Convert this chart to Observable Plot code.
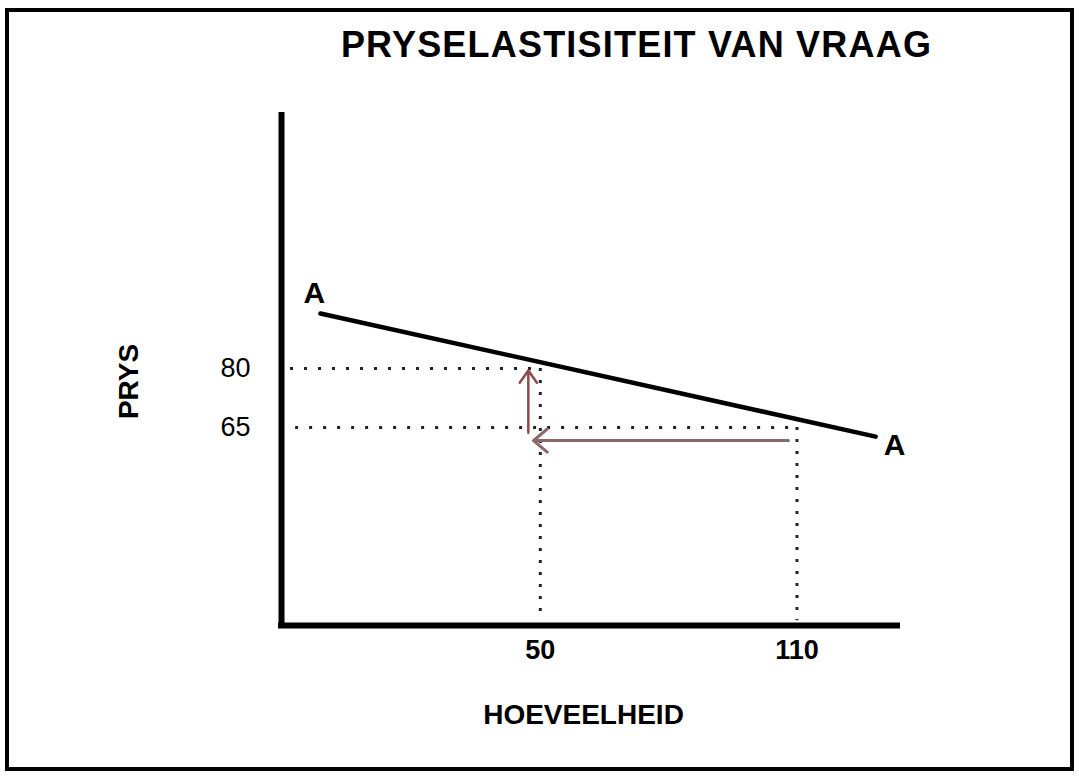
<!DOCTYPE html>
<html><head><meta charset="utf-8">
<script src="https://cdn.jsdelivr.net/npm/d3@7"></script>
<script src="https://cdn.jsdelivr.net/npm/@observablehq/plot@0.6"></script>
<style>
body{margin:0;background:#fff;}
#wrap{position:relative;width:1079px;height:776px;overflow:hidden;background:#fff;}
#border{position:absolute;left:5px;top:8px;width:1061px;height:755px;border:4px solid #000;pointer-events:none;}
</style></head><body><div id="wrap"><div id="border"></div></div>
<script>
// ---- data ----
const title = "PRYSELASTISITEIT VAN VRAAG";
const xLabel = "HOEVEELHEID";
const yLabel = "PRYS";
const curveLabel = "A";
const xTicks = [50, 110];
const yTicks = [80, 65];
const xDomain = [-10.5, 133.5];
const yDomain = [14.7, 144.3];
const demandQ = [-1.4, 128.4];
const demandP = [94.0, 62.7];
// dotted guides
const guideHP = [80, 65];
const guideHQ1 = [-8.4, -7.2];
const guideHQ2 = [50, 110];
const guideVQ = [50, 110];
const guideVP1 = [80, 65];
const guideVP2 = [17.2, 15.9];
// arrows (quantity falls 110 -> 50, price rises 65 -> 80)
const arrowQ1 = [108.0, 47.2];
const arrowQ2 = [48.4, 47.2];
const arrowP1 = [61.7, 63.7];
const arrowP2 = [61.7, 79.5];

const demand = demandQ.map((q, i) => ({q, p: demandP[i]}));
const hGuides = guideHP.map((p, i) => ({p, q1: guideHQ1[i], q2: guideHQ2[i]}));
const vGuides = guideVQ.map((q, i) => ({q, p1: guideVP1[i], p2: guideVP2[i]}));
const arrows = arrowQ1.map((q1, i) => ({q1, q2: arrowQ2[i], p1: arrowP1[i], p2: arrowP2[i]}));

const font = "'Liberation Sans', Arial, sans-serif";
const chart = Plot.plot({
  width: 1079, height: 776,
  marginLeft: 281, marginRight: 182, marginTop: 115, marginBottom: 151,
  style: {fontFamily: font, color: "#000", background: "transparent", overflow: "visible"},
  x: {domain: xDomain},
  y: {domain: yDomain},
  marks: [
    Plot.ruleY(hGuides, {y: "p", x1: "q1", x2: "q2", stroke: "#222", strokeWidth: 3, strokeDasharray: "3 11"}),
    Plot.ruleX(vGuides, {x: "q", y1: "p1", y2: "p2", stroke: "#222", strokeWidth: 3, strokeDasharray: "3 9"}),
    Plot.arrow(arrows.slice(0,1), {x1: "q1", y1: "p1", x2: "q2", y2: "p2", stroke: "#8d6868", strokeWidth: 3, headLength: 9, headAngle: 80}),
    Plot.arrow(arrows.slice(1), {x1: "q1", y1: "p1", x2: "q2", y2: "p2", stroke: "#8e4a4a", strokeWidth: 2.5, headLength: 9, headAngle: 70}),
    Plot.line(demand, {x: "q", y: "p", stroke: "#000", strokeWidth: 4.5}),
    Plot.ruleY([yDomain[0]], {stroke: "#000", strokeWidth: 6, strokeLinecap: "square"}),
    Plot.ruleX([xDomain[0]], {stroke: "#000", strokeWidth: 6, strokeLinecap: "square"}),
    Plot.axisY({ticks: yTicks, tickSize: 0, tickPadding: 31, fontSize: 27, label: null}),
    Plot.axisX({ticks: xTicks, tickSize: 0, tickPadding: 14, fontSize: 27, fontWeight: "bold", label: null}),
    Plot.text(demand.slice(0,1), {x: "q", y: "p", text: () => curveLabel, dx: -6, dy: -20, fontSize: 30, fontWeight: "bold"}),
    Plot.text(demand.slice(1), {x: "q", y: "p", text: () => curveLabel, dx: 19, dy: 9, fontSize: 30, fontWeight: "bold"}),
    Plot.text([yLabel], {frameAnchor: "left", rotate: -90, dx: -152, dy: 11, fontSize: 28, fontWeight: "bold", textAnchor: "middle", lineAnchor: "middle"}),
    Plot.text([xLabel], {frameAnchor: "bottom", dx: -6, dy: 90, fontSize: 28, fontWeight: "bold", lineAnchor: "middle"}),
    Plot.text([title], {frameAnchor: "top", dx: 47, dy: -70, fontSize: 36, fontWeight: "bold", lineAnchor: "middle"})
  ]
});
chart.style.position = "absolute";
chart.style.left = "0px";
chart.style.top = "0px";
d3.select(chart).selectAll("text").filter(function(){ return this.textContent === title; }).style("letter-spacing", "1.2px");
document.getElementById("wrap").insertBefore(chart, document.getElementById("border"));
</script>
</body></html>
